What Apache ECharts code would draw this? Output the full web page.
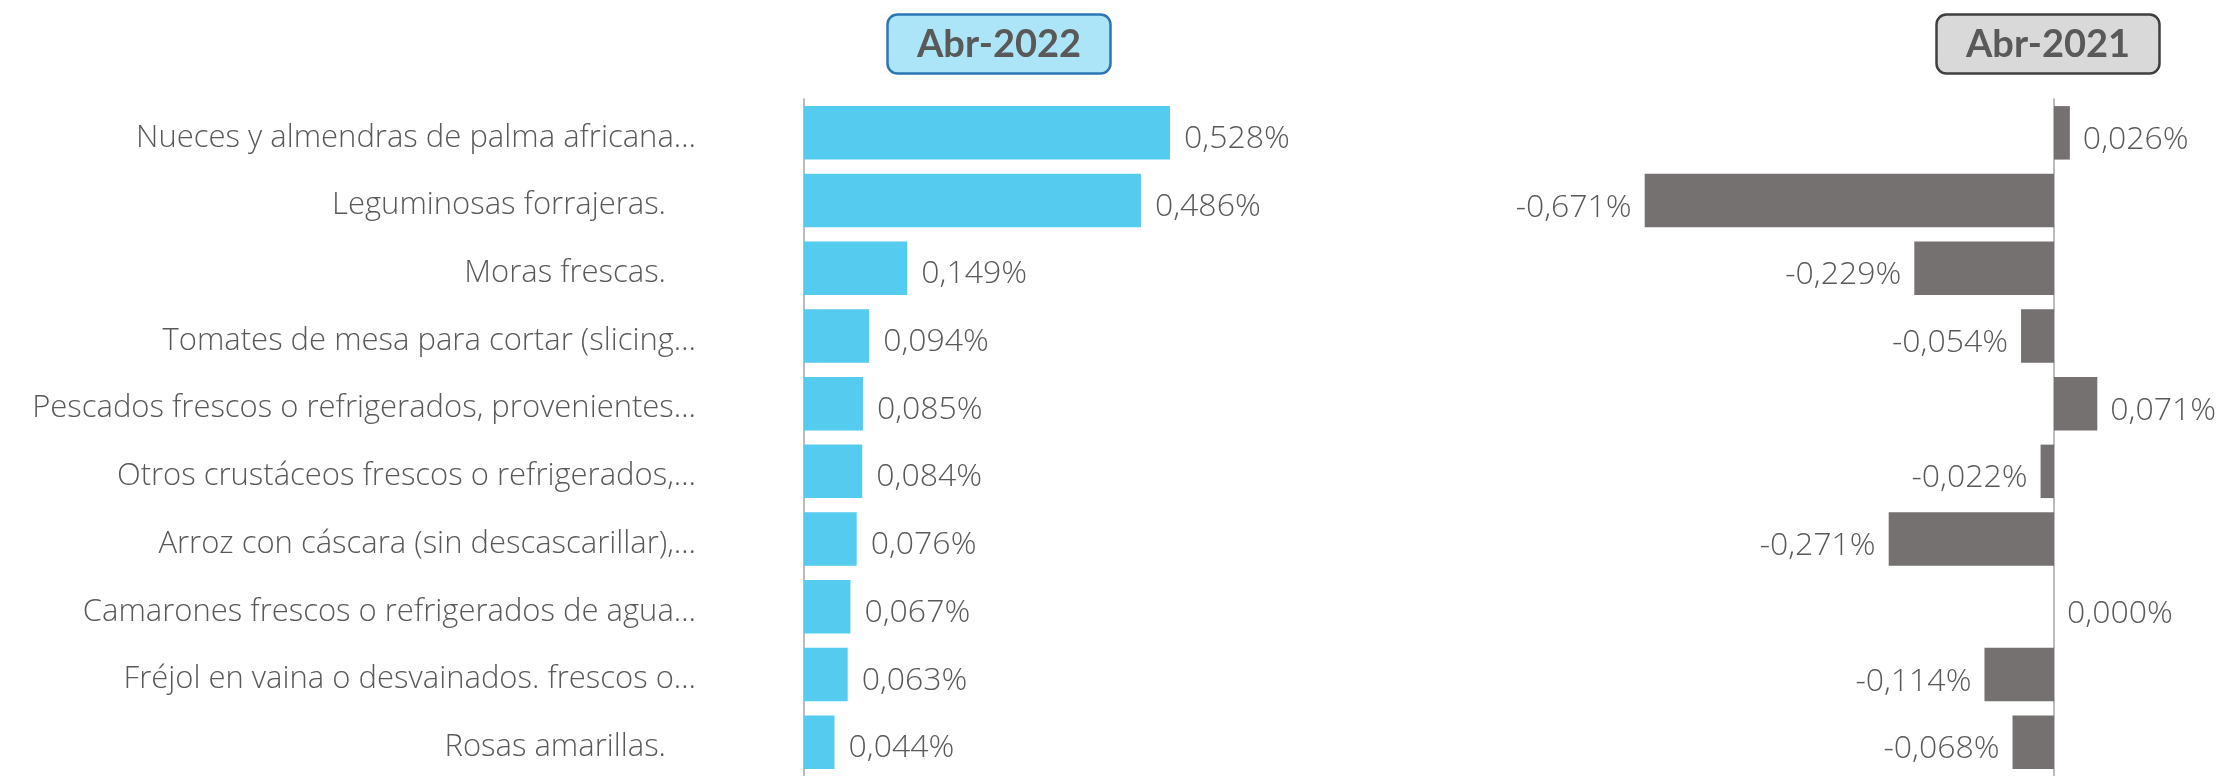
<!DOCTYPE html>
<html>
<head>
<meta charset="utf-8">
<script src="https://cdn.jsdelivr.net/npm/echarts@6/dist/echarts.min.js"></script>
<style>
  html, body { margin: 0; padding: 0; background: #fff; }
  #main { width: 2221px; height: 776px; }
</style>
</head>
<body>
<div id="main"></div>
<script>
var productos = [
  'Nueces y almendras de palma africana…',
  'Leguminosas forrajeras.',
  'Moras frescas.',
  'Tomates de mesa para cortar (slicing…',
  'Pescados frescos o refrigerados, provenientes…',
  'Otros crustáceos frescos o refrigerados,…',
  'Arroz con cáscara (sin descascarillar),…',
  'Camarones frescos o refrigerados de agua…',
  'Fréjol en vaina o desvainados. frescos o…',
  'Rosas amarillas.'
];
var abr2022 = [0.528, 0.486, 0.149, 0.094, 0.085, 0.084, 0.076, 0.067, 0.063, 0.044];
var abr2021 = [0.026, -0.671, -0.229, -0.054, 0.071, -0.022, -0.271, 0.000, -0.114, -0.068];

var gris = '#595959';
var fuente = '"Open Sans"';

function fmt(v) {
  return v.toFixed(3).replace('.', ',') + '%';
}

var chart = echarts.init(document.getElementById('main'));

var option = {
  animation: false,
  title: [
    {
      text: 'Abr-2022',
      left: 887, top: 14,
      padding: [12, 30, 10, 30],
      backgroundColor: '#ABE5F7',
      borderColor: '#2E75B6',
      borderWidth: 2.5,
      borderRadius: 10,
      textStyle: { fontFamily: 'Lato', fontWeight: 'bold', fontSize: 38, color: gris }
    },
    {
      text: 'Abr-2021',
      left: 1936, top: 14,
      padding: [12, 30, 10, 30],
      backgroundColor: '#D9D9D9',
      borderColor: '#404040',
      borderWidth: 2.5,
      borderRadius: 10,
      textStyle: { fontFamily: 'Lato', fontWeight: 'bold', fontSize: 38, color: gris }
    }
  ],
  grid: [
    { left: 804, top: 99, width: 416, height: 682 },
    { left: 1627, top: 99, width: 488, height: 682 }
  ],
  xAxis: [
    { gridIndex: 0, type: 'value', min: 0, max: 0.6, show: false },
    { gridIndex: 1, type: 'value', min: -0.7, max: 0.1, show: false }
  ],
  yAxis: [
    {
      gridIndex: 0, type: 'category', inverse: true, data: productos,
      axisLine: { lineStyle: { color: '#A6A6A6', width: 1.5 } },
      axisTick: { length: 8, lineStyle: { color: '#A6A6A6', width: 1.5 } },
      axisLabel: {
        margin: 108,
        padding: [10, 0, 0, 0],
        fontFamily: fuente, fontWeight: 300, fontSize: 31, color: gris,
        formatter: function (v) {
          return v.slice(-1) === '…' ? v : '{p|' + v + '}';
        },
        rich: { p: { fontFamily: fuente, fontWeight: 300, fontSize: 31, color: gris, padding: [0, 30, 0, 0] } }
      }
    },
    {
      gridIndex: 1, type: 'category', inverse: true, data: productos,
      axisLine: { lineStyle: { color: '#A6A6A6', width: 1.5 } },
      axisTick: { length: 8, lineStyle: { color: '#A6A6A6', width: 1.5 } },
      axisLabel: { show: false }
    }
  ],
  series: [
    {
      type: 'bar', xAxisIndex: 0, yAxisIndex: 0,
      data: abr2022,
      barCategoryGap: '21%',
      itemStyle: { color: '#55CBEF' },
      label: {
        show: true, position: 'right', distance: 14, offset: [0, 6],
        fontFamily: fuente, fontWeight: 300, fontSize: 32, color: gris,
        formatter: function (p) { return fmt(p.value); }
      }
    },
    {
      type: 'bar', xAxisIndex: 1, yAxisIndex: 1,
      data: abr2021.map(function (v) {
        return { value: v, label: { position: v < 0 ? 'left' : 'right' } };
      }),
      barCategoryGap: '21%',
      itemStyle: { color: '#757171' },
      label: {
        show: true, distance: 13, offset: [0, 7],
        fontFamily: fuente, fontWeight: 300, fontSize: 32, color: gris,
        formatter: function (p) { return fmt(p.value); }
      }
    }
  ]
};

chart.setOption(option);
</script>
</body>
</html>
